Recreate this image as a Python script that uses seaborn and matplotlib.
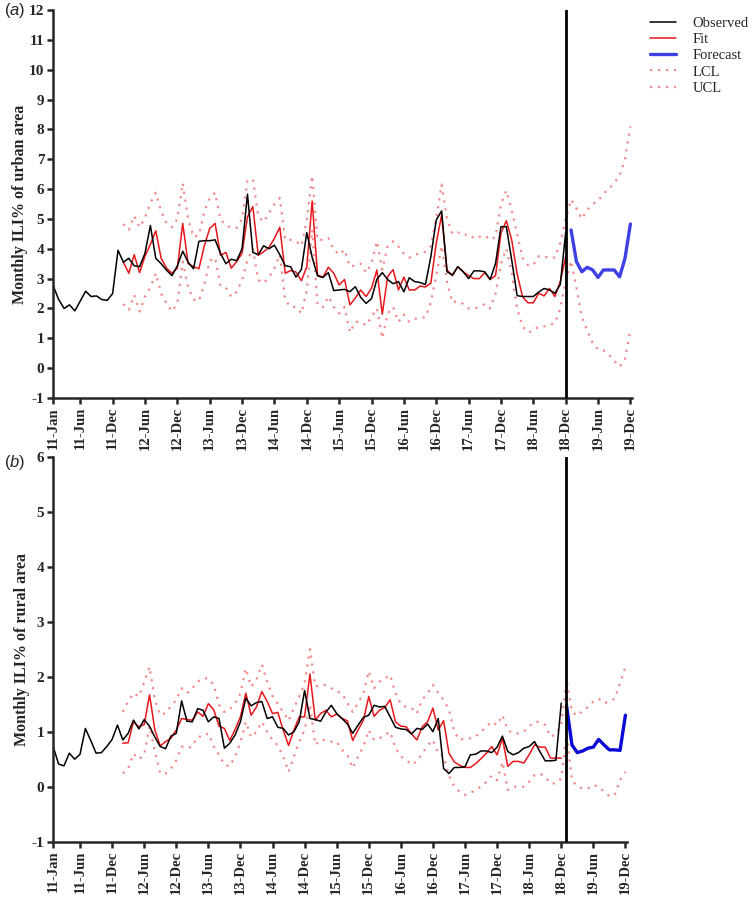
import numpy as np
import pandas as pd
import matplotlib
matplotlib.use("Agg")
import matplotlib.pyplot as plt
import seaborn as sns
from matplotlib.lines import Line2D

# ---------------- data (monthly, index 0 = Jan 2011) ----------------
tick_pos = [0, 5] + list(range(11, 108, 6))
tick_labels = ["11-Jan", "11-Jun", "11-Dec",
               "12-Jun", "12-Dec", "13-Jun", "13-Dec", "14-Jun", "14-Dec",
               "15-Jun", "15-Dec", "16-Jun", "16-Dec", "17-Jun", "17-Dec",
               "18-Jun", "18-Dec", "19-Jun", "19-Dec"]

obs_start, fit_start, band_start, fc_start = 0, 13, 13, 96

urban_observed = [
    2.75, 2.30, 2.00, 2.12, 1.92, 2.25, 2.58, 2.40, 2.42, 2.30, 2.27, 2.50,
    3.95, 3.55, 3.68, 3.43, 3.40, 3.85, 4.78, 3.68, 3.50, 3.28, 3.10, 3.43,
    3.92, 3.55, 3.33, 4.25, 4.27, 4.27, 4.30, 3.85, 3.50, 3.65, 3.60, 4.00,
    5.83, 3.88, 3.80, 4.10, 4.00, 4.12, 3.80, 3.43, 3.40, 3.05, 3.31, 4.54,
    3.71, 3.09, 3.04, 3.20, 2.60, 2.62, 2.64, 2.56, 2.73, 2.37, 2.17, 2.33,
    2.98, 3.20, 2.97, 2.83, 2.90, 2.56, 3.03, 2.90, 2.87, 2.80, 3.73, 4.96,
    5.27, 3.23, 3.12, 3.40, 3.23, 3.00, 3.26, 3.26, 3.23, 2.97, 3.51, 4.74,
    4.74, 3.62, 2.43, 2.40, 2.40, 2.40, 2.55, 2.67, 2.62, 2.51, 2.80, 4.55]
urban_fit = [
    3.55, 3.18, 3.80, 3.20, 3.75, 4.15, 4.60, 3.68, 3.35, 3.18, 3.35,
    4.85, 3.50, 3.40, 3.33, 4.10, 4.68, 4.85, 3.78, 3.88, 3.35, 3.57, 3.85,
    5.07, 5.41, 3.78, 3.90, 4.05, 4.35, 4.72, 3.18, 3.27, 3.22, 2.93, 3.40,
    5.60, 3.12, 3.05, 3.38, 3.18, 2.79, 2.97, 2.12, 2.35, 2.62, 2.40, 2.68,
    3.29, 1.81, 3.07, 3.30, 2.62, 3.05, 2.62, 2.62, 2.75, 2.72, 2.85, 4.18,
    5.13, 3.29, 3.10, 3.40, 3.23, 3.10, 3.00, 3.00, 3.20, 2.97, 3.10, 4.52,
    4.94, 4.29, 3.16, 2.40, 2.19, 2.19, 2.51, 2.42, 2.67, 2.40, 2.90, 3.73]
urban_forecast = [4.63, 3.57, 3.23, 3.38, 3.29, 3.04, 3.29, 3.29, 3.29, 3.06, 3.68, 4.83]
urban_lcl = [
    2.15, 1.95, 2.45, 1.90, 2.40, 2.70, 3.18, 2.50, 2.17, 1.90, 2.17,
    3.57, 2.70, 2.30, 2.25, 2.80, 3.60, 3.70, 2.76, 2.70, 2.39, 2.56, 2.95,
    3.62, 4.00, 2.95, 2.85, 3.05, 3.35, 3.80, 2.28, 2.05, 2.05, 1.83, 2.60,
    4.63, 2.10, 2.05, 2.40, 2.05, 1.83, 2.05, 1.20, 1.55, 1.55, 1.43, 1.72,
    2.00, 1.00, 1.83, 2.05, 1.55, 1.80, 1.55, 1.65, 1.70, 1.70, 2.20, 3.10,
    4.10, 2.90, 2.20, 2.25, 2.15, 2.00, 2.00, 2.05, 2.15, 2.00, 2.50, 3.50,
    4.00, 3.20, 2.00, 1.40, 1.20, 1.25, 1.40, 1.40, 1.45, 1.50, 2.00, 2.90,
    3.60, 2.70, 1.70, 1.25, 0.85, 0.62, 0.60, 0.45, 0.25, 0.05, 0.30, 1.30]
urban_ucl = [
    4.83, 4.63, 5.10, 4.72, 5.03, 5.53, 5.88, 5.25, 4.86, 4.72, 5.00,
    6.20, 5.00, 4.40, 4.45, 5.25, 5.70, 5.88, 4.98, 4.80, 4.70, 4.70, 5.00,
    6.28, 6.33, 5.10, 4.90, 5.20, 5.50, 5.70, 4.30, 4.30, 4.25, 4.10, 4.95,
    6.45, 4.30, 4.30, 4.36, 3.97, 3.80, 3.97, 3.40, 3.45, 3.50, 3.20, 3.50,
    4.25, 3.30, 4.10, 4.25, 4.07, 3.84, 3.70, 3.80, 3.85, 3.90, 4.10, 5.00,
    6.15, 5.00, 4.50, 4.55, 4.45, 4.50, 4.35, 4.40, 4.45, 4.30, 4.40, 5.50,
    5.95, 5.30, 4.50, 3.70, 3.45, 3.45, 3.75, 3.70, 3.75, 3.70, 4.20, 5.00,
    5.65, 5.35, 5.00, 5.30, 5.50, 5.60, 5.85, 6.00, 6.20, 6.45, 7.00, 8.10]

rural_observed = [
    0.72, 0.41, 0.38, 0.61, 0.50, 0.59, 1.06, 0.84, 0.61, 0.62, 0.73, 0.86,
    1.12, 0.85, 0.97, 1.21, 1.05, 1.22, 1.10, 0.90, 0.73, 0.69, 0.92, 0.97,
    1.56, 1.19, 1.18, 1.42, 1.39, 1.18, 1.27, 1.24, 0.70, 0.79, 0.94, 1.18,
    1.61, 1.47, 1.53, 1.55, 1.24, 1.27, 1.08, 1.06, 0.94, 1.00, 1.18, 1.75,
    1.24, 1.22, 1.19, 1.36, 1.48, 1.33, 1.24, 1.14, 0.97, 1.12, 1.26, 1.30,
    1.48, 1.45, 1.46, 1.27, 1.08, 1.05, 1.04, 0.96, 1.06, 1.04, 1.14, 1.00,
    1.24, 0.33, 0.24, 0.35, 0.35, 0.36, 0.58, 0.59, 0.65, 0.65, 0.62, 0.72,
    0.92, 0.64, 0.58, 0.62, 0.70, 0.73, 0.82, 0.64, 0.47, 0.47, 0.48, 1.52]
rural_fit = [
    0.79, 0.80, 1.18, 1.09, 1.13, 1.67, 1.03, 0.74, 0.82, 0.88, 1.03,
    1.24, 1.22, 1.21, 1.36, 1.28, 1.51, 1.40, 1.10, 1.06, 0.84, 1.04, 1.27,
    1.70, 1.30, 1.45, 1.73, 1.55, 1.33, 1.35, 1.03, 0.75, 1.03, 1.27, 1.27,
    2.05, 1.21, 1.33, 1.39, 1.27, 1.32, 1.24, 1.20, 0.84, 1.03, 1.21, 1.64,
    1.28, 1.39, 1.44, 1.58, 1.18, 1.10, 1.09, 0.96, 0.85, 1.09, 1.18, 1.43,
    1.03, 1.20, 0.61, 0.45, 0.39, 0.35, 0.35, 0.42, 0.51, 0.61, 0.73, 0.58,
    0.88, 0.37, 0.46, 0.46, 0.43, 0.58, 0.76, 0.72, 0.72, 0.52, 0.52, 0.52]
rural_forecast = [1.47, 0.76, 0.62, 0.65, 0.70, 0.72, 0.86, 0.76, 0.67, 0.67, 0.66, 1.30]
rural_lcl = [
    0.24, 0.33, 0.60, 0.50, 0.58, 1.10, 0.64, 0.24, 0.24, 0.33, 0.48,
    0.73, 0.70, 0.73, 0.91, 0.91, 0.97, 0.73, 0.58, 0.40, 0.37, 0.55, 0.80,
    1.18, 0.90, 1.00, 1.18, 1.00, 0.85, 0.75, 0.55, 0.27, 0.55, 0.82, 1.03,
    1.49, 0.76, 0.85, 0.85, 0.82, 0.82, 0.67, 0.58, 0.34, 0.55, 0.73, 1.03,
    0.85, 0.88, 0.94, 1.00, 0.70, 0.55, 0.49, 0.40, 0.46, 0.60, 0.75, 0.85,
    0.60, 0.55, 0.20, 0.00, -0.09, -0.15, -0.12, -0.05, 0.00, 0.09, 0.20, 0.12,
    0.45, -0.06, 0.00, 0.00, 0.00, 0.09, 0.21, 0.24, 0.18, 0.06, 0.06, 0.15,
    0.95, 0.12, 0.00, -0.03, -0.03, 0.03, 0.00, -0.09, -0.17, -0.15, 0.12, 0.27]
rural_ucl = [
    1.36, 1.55, 1.70, 1.64, 1.90, 2.18, 1.58, 1.30, 1.34, 1.46, 1.58,
    1.79, 1.70, 1.79, 1.91, 1.97, 1.97, 1.85, 1.49, 1.36, 1.40, 1.52, 1.70,
    2.15, 1.82, 1.95, 2.22, 1.91, 1.65, 1.50, 1.36, 1.20, 1.43, 1.64, 1.88,
    2.50, 1.82, 1.85, 1.85, 1.79, 1.73, 1.70, 1.52, 1.36, 1.52, 1.70, 2.10,
    1.79, 1.91, 1.97, 2.03, 1.70, 1.50, 1.45, 1.43, 1.33, 1.58, 1.70, 1.85,
    1.70, 1.58, 1.40, 1.00, 0.85, 0.88, 0.88, 0.91, 1.00, 1.09, 1.18, 1.12,
    1.30, 1.03, 0.97, 0.97, 1.00, 1.09, 1.18, 1.18, 1.12, 0.91, 0.95, 1.12,
    1.95, 1.36, 1.29, 1.38, 1.45, 1.55, 1.60, 1.52, 1.55, 1.60, 1.88, 2.18]

# ---------------- style ----------------
sns.set_style("ticks")
plt.rcParams["font.family"] = ["Liberation Serif", "DejaVu Serif"]
plt.rcParams["mathtext.fontset"] = "custom"
plt.rcParams["mathtext.it"] = "Liberation Sans:italic"
plt.rcParams["mathtext.rm"] = "Liberation Sans"
plt.rcParams["axes.unicode_minus"] = False

C_OBS = "#000000"
C_FIT = "#e8161b"
C_BAND = "#f28b8b"
DOT = (0, (1.0, 2.6))

fig = plt.figure(figsize=(7.52, 8.97), dpi=100)
ax_top = fig.add_axes([53.3 / 752, 1 - 398 / 897, (632.0 - 53.3) / 752, (398 - 10) / 897])
ax_bot = fig.add_axes([53.3 / 752, 1 - 841.7 / 897, (627.0 - 53.3) / 752, (841.7 - 456.7) / 897])


def series_df(values, start):
    return pd.DataFrame({"month": np.arange(start, start + len(values)), "value": values})


def draw(ax, obs, fit, fc, lcl, ucl, ylim, ylabel, fc_color, vline_x):
    sns.lineplot(data=series_df(lcl, band_start), x="month", y="value", ax=ax,
                 color=C_BAND, linewidth=1.6, linestyle=DOT, label="LCL")
    sns.lineplot(data=series_df(ucl, band_start), x="month", y="value", ax=ax,
                 color=C_BAND, linewidth=1.6, linestyle=DOT, label="UCL")
    sns.lineplot(data=series_df(fit, fit_start), x="month", y="value", ax=ax,
                 color=C_FIT, linewidth=1.1, label="Fit")
    sns.lineplot(data=series_df(obs, obs_start), x="month", y="value", ax=ax,
                 color=C_OBS, linewidth=1.1, label="Observed")
    sns.lineplot(data=series_df(fc, fc_start), x="month", y="value", ax=ax,
                 color=fc_color, linewidth=2.4, label="Forecast")
    ax.axvline(vline_x, color="black", linewidth=2.0, zorder=5)
    ax.set_xlim(0, 107.3)
    ax.set_ylim(*ylim)
    ax.set_yticks(np.arange(ylim[0], ylim[1] + 1, 1))
    ax.set_xticks(tick_pos)
    ax.set_xticklabels(tick_labels, rotation=90, fontsize=10.5, fontweight="bold")
    for t in ax.get_yticklabels():
        t.set_fontsize(11)
        t.set_fontweight("bold")
    ax.set_xlabel("")
    ax.set_ylabel(ylabel, fontsize=11.5, fontweight="bold", labelpad=1)
    sns.despine(ax=ax)
    for s in ("left", "bottom"):
        ax.spines[s].set_linewidth(1.8)
    ax.tick_params(axis="both", direction="out", length=4.5, width=1.8, pad=2)
    ax.get_legend().remove()


draw(ax_top, urban_observed, urban_fit, urban_forecast, urban_lcl, urban_ucl,
     (-1, 12), "Monthly ILI% of urban area", "#3f3fe6", 95)
draw(ax_bot, rural_observed, rural_fit, rural_forecast, rural_lcl, rural_ucl,
     (-1, 6), "Monthly ILI% of rural area", "#0a0ad6", 95.9)

fig.text(4 / 752, 1 - 10 / 897, r"($\mathit{a}$)", fontsize=12, va="center", ha="left",
         family="Liberation Sans")
fig.text(4 / 752, 1 - 462 / 897, r"($\mathit{b}$)", fontsize=12, va="center", ha="left",
         family="Liberation Sans")

handles = [
    Line2D([], [], color=C_OBS, linewidth=1.1),
    Line2D([], [], color=C_FIT, linewidth=1.1),
    Line2D([], [], color="#3f3fe6", linewidth=2.4),
    Line2D([], [], color=C_BAND, linewidth=1.6, linestyle=DOT),
    Line2D([], [], color=C_BAND, linewidth=1.6, linestyle=DOT),
]
fig.legend(handles, ["Observed", "Fit", "Forecast", "LCL", "UCL"],
           loc="upper left", bbox_to_anchor=(650 / 752, 1 - 17 / 897),
           frameon=False, fontsize=10.5, handlelength=1.8, handletextpad=1.1,
           labelspacing=0.2, borderpad=0, borderaxespad=0)

fig.savefig("out.png", dpi=100)
